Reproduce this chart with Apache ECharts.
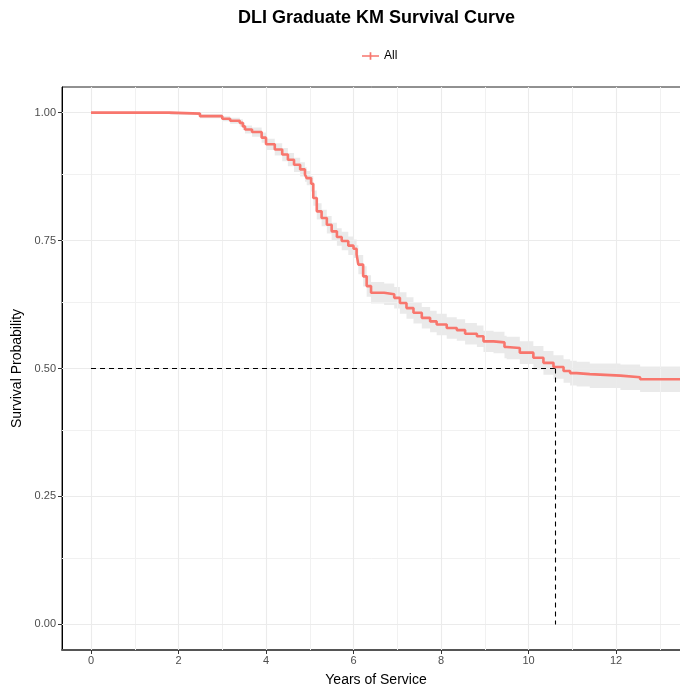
<!DOCTYPE html>
<html>
<head>
<meta charset="utf-8">
<script src="https://cdn.jsdelivr.net/npm/echarts@6/dist/echarts.min.js"></script>
<style>html,body{margin:0;padding:0;background:#fff;}#c{width:680px;height:688px;}</style>
</head>
<body>
<div id="c"></div>
<script>
// Kaplan-Meier estimates
const times = [0, 1.8, 2.49, 3.0, 3.18, 3.4, 3.47, 3.52, 3.68, 3.9, 4.0, 4.2, 4.37, 4.5, 4.64, 4.78, 4.89, 4.93, 5.03, 5.08, 5.16, 5.27, 5.39, 5.5, 5.62, 5.73, 5.88, 6.0, 6.07, 6.11, 6.22, 6.3, 6.4, 6.7, 6.93, 7.06, 7.21, 7.37, 7.56, 7.75, 7.9, 8.13, 8.36, 8.55, 8.82, 8.97, 9.2, 9.45, 9.5, 9.8, 10.11, 10.34, 10.57, 10.8, 10.95, 11.1, 11.4, 12.1, 12.55, 13.6];
const surv  = [1.0, 0.998, 0.993, 0.988, 0.984, 0.980, 0.973, 0.967, 0.962, 0.951, 0.938, 0.928, 0.918, 0.908, 0.898, 0.889, 0.879, 0.872, 0.861, 0.833, 0.807, 0.794, 0.781, 0.768, 0.757, 0.749, 0.740, 0.734, 0.723, 0.703, 0.680, 0.661, 0.648, 0.645, 0.638, 0.628, 0.618, 0.609, 0.599, 0.592, 0.586, 0.579, 0.575, 0.568, 0.563, 0.553, 0.551, 0.542, 0.540, 0.531, 0.521, 0.511, 0.503, 0.495, 0.491, 0.489, 0.486, 0.483, 0.479, 0.479];
const lower = [1.0, 0.996, 0.989, 0.983, 0.978, 0.973, 0.966, 0.959, 0.953, 0.941, 0.927, 0.916, 0.905, 0.895, 0.884, 0.875, 0.865, 0.858, 0.846, 0.818, 0.791, 0.778, 0.764, 0.751, 0.740, 0.731, 0.722, 0.716, 0.705, 0.684, 0.660, 0.640, 0.627, 0.624, 0.617, 0.607, 0.597, 0.588, 0.578, 0.571, 0.565, 0.558, 0.554, 0.547, 0.542, 0.532, 0.530, 0.520, 0.518, 0.509, 0.498, 0.488, 0.480, 0.472, 0.467, 0.465, 0.462, 0.458, 0.454, 0.454];
const upper = [1.0, 1.0, 0.997, 0.993, 0.990, 0.987, 0.980, 0.975, 0.971, 0.961, 0.949, 0.940, 0.931, 0.921, 0.912, 0.903, 0.893, 0.886, 0.876, 0.848, 0.823, 0.810, 0.798, 0.785, 0.774, 0.767, 0.758, 0.752, 0.741, 0.722, 0.700, 0.682, 0.669, 0.666, 0.659, 0.649, 0.639, 0.630, 0.620, 0.613, 0.607, 0.600, 0.596, 0.589, 0.584, 0.574, 0.572, 0.564, 0.562, 0.553, 0.544, 0.534, 0.526, 0.518, 0.515, 0.513, 0.510, 0.508, 0.504, 0.504];
const medianTime = 10.62;
const medianSurv = 0.5;
const xTicks = [0, 2, 4, 6, 8, 10, 12];
const xMinor = [1, 3, 5, 7, 9, 11, 13];
const yTicks = [0, 0.25, 0.5, 0.75, 1.0];
const yMinor = [0.125, 0.375, 0.625, 0.875];

const FONT = '"Liberation Sans", Arial, sans-serif';
const chart = echarts.init(document.getElementById('c'), null, {renderer: 'canvas'});

const zip = (a, b) => a.map((v, i) => [v, b[i]]);
const gridLines = (xs, ys) => xs.map(v => ({xAxis: v})).concat(ys.map(v => ({yAxis: v})));

// step-shaped confidence band polygon, built from the arrays via the axis scales
function renderBand(params, api) {
  const pts = [];
  const n = times.length;
  for (let i = 0; i < n; i++) {
    pts.push(api.coord([times[i], upper[i]]));
    if (i < n - 1) pts.push(api.coord([times[i + 1], upper[i]]));
  }
  for (let i = n - 1; i >= 0; i--) {
    if (i < n - 1) pts.push(api.coord([times[i + 1], lower[i]]));
    pts.push(api.coord([times[i], lower[i]]));
  }
  return {type: 'polygon', shape: {points: pts},
    style: {fill: 'rgba(185,185,185,0.3)', stroke: null, lineWidth: 0}, silent: true};
}

chart.setOption({
  animation: false,
  backgroundColor: '#fff',
  title: {
    text: 'DLI Graduate KM Survival Curve',
    left: 233, top: 4,
    textStyle: {fontFamily: FONT, fontSize: 18, fontWeight: 'bold', color: '#000'}
  },
  legend: {
    data: ['All'], left: 357, top: 45,
    itemWidth: 17, itemHeight: 9, itemGap: 6,
    icon: 'path://M0,3.5h20v2h-20z M9,0h2v9h-2z',
    textStyle: {fontFamily: FONT, fontSize: 12, color: '#000'}
  },
  grid: {left: 62, top: 87, width: 628, height: 563, show: true, borderColor: '#222', borderWidth: 1,
    containLabel: false, outerBoundsMode: 'none'},
  xAxis: {
    type: 'value', min: -0.663, max: 13.69,
    name: 'Years of Service', nameLocation: 'middle', nameGap: 23,
    nameTextStyle: {fontFamily: FONT, fontSize: 14, color: '#000'},
    axisLine: {show: true, onZero: false, lineStyle: {color: '#555', width: 2}},
    axisTick: {show: true, customValues: xTicks, length: 4, lineStyle: {color: '#333'}},
    axisLabel: {customValues: xTicks, margin: 5, fontFamily: FONT, fontSize: 11, color: '#4d4d4d'},
    splitLine: {show: false}
  },
  yAxis: {
    type: 'value', min: -0.05, max: 1.05,
    name: 'Survival Probability', nameLocation: 'middle', nameGap: 32,
    nameTextStyle: {fontFamily: FONT, fontSize: 14, color: '#000'},
    axisLine: {show: true, onZero: false, lineStyle: {color: '#000', width: 1}},
    axisTick: {show: true, customValues: yTicks, length: 4, lineStyle: {color: '#333'}},
    axisLabel: {customValues: yTicks, margin: 6, fontFamily: FONT, fontSize: 11, color: '#4d4d4d',
      formatter: v => v.toFixed(2)},
    splitLine: {show: false}
  },
  series: [
    {
      name: 'minorGrid', type: 'line', data: [], silent: true, z: 1,
      markLine: {silent: true, symbol: 'none', label: {show: false},
        lineStyle: {color: '#f1f1f1', width: 1, type: 'solid'},
        data: gridLines(xMinor, yMinor)}
    },
    {
      name: 'majorGrid', type: 'line', data: [], silent: true, z: 1,
      markLine: {silent: true, symbol: 'none', label: {show: false},
        lineStyle: {color: '#ebebeb', width: 1.1, type: 'solid'},
        data: gridLines(xTicks, yTicks)}
    },
    {
      name: 'band', type: 'custom', clip: true, silent: true, z: 2,
      data: [0], renderItem: renderBand
    },
    {
      name: 'All', type: 'line', step: 'end', symbol: 'none', z: 10, clip: false,
      color: '#F8766D',
      lineStyle: {color: '#F8766D', width: 2.6},
      emphasis: {disabled: true},
      data: zip(times, surv),
      markLine: {
        silent: true, symbol: 'none', label: {show: false},
        lineStyle: {color: '#000', width: 1.1, type: [5, 4]},
        data: [
          [{coord: [0, medianSurv]}, {coord: [medianTime, medianSurv]}],
          [{coord: [medianTime, medianSurv]}, {coord: [medianTime, 0]}]
        ]
      }
    }
  ]
});
</script>
</body>
</html>
